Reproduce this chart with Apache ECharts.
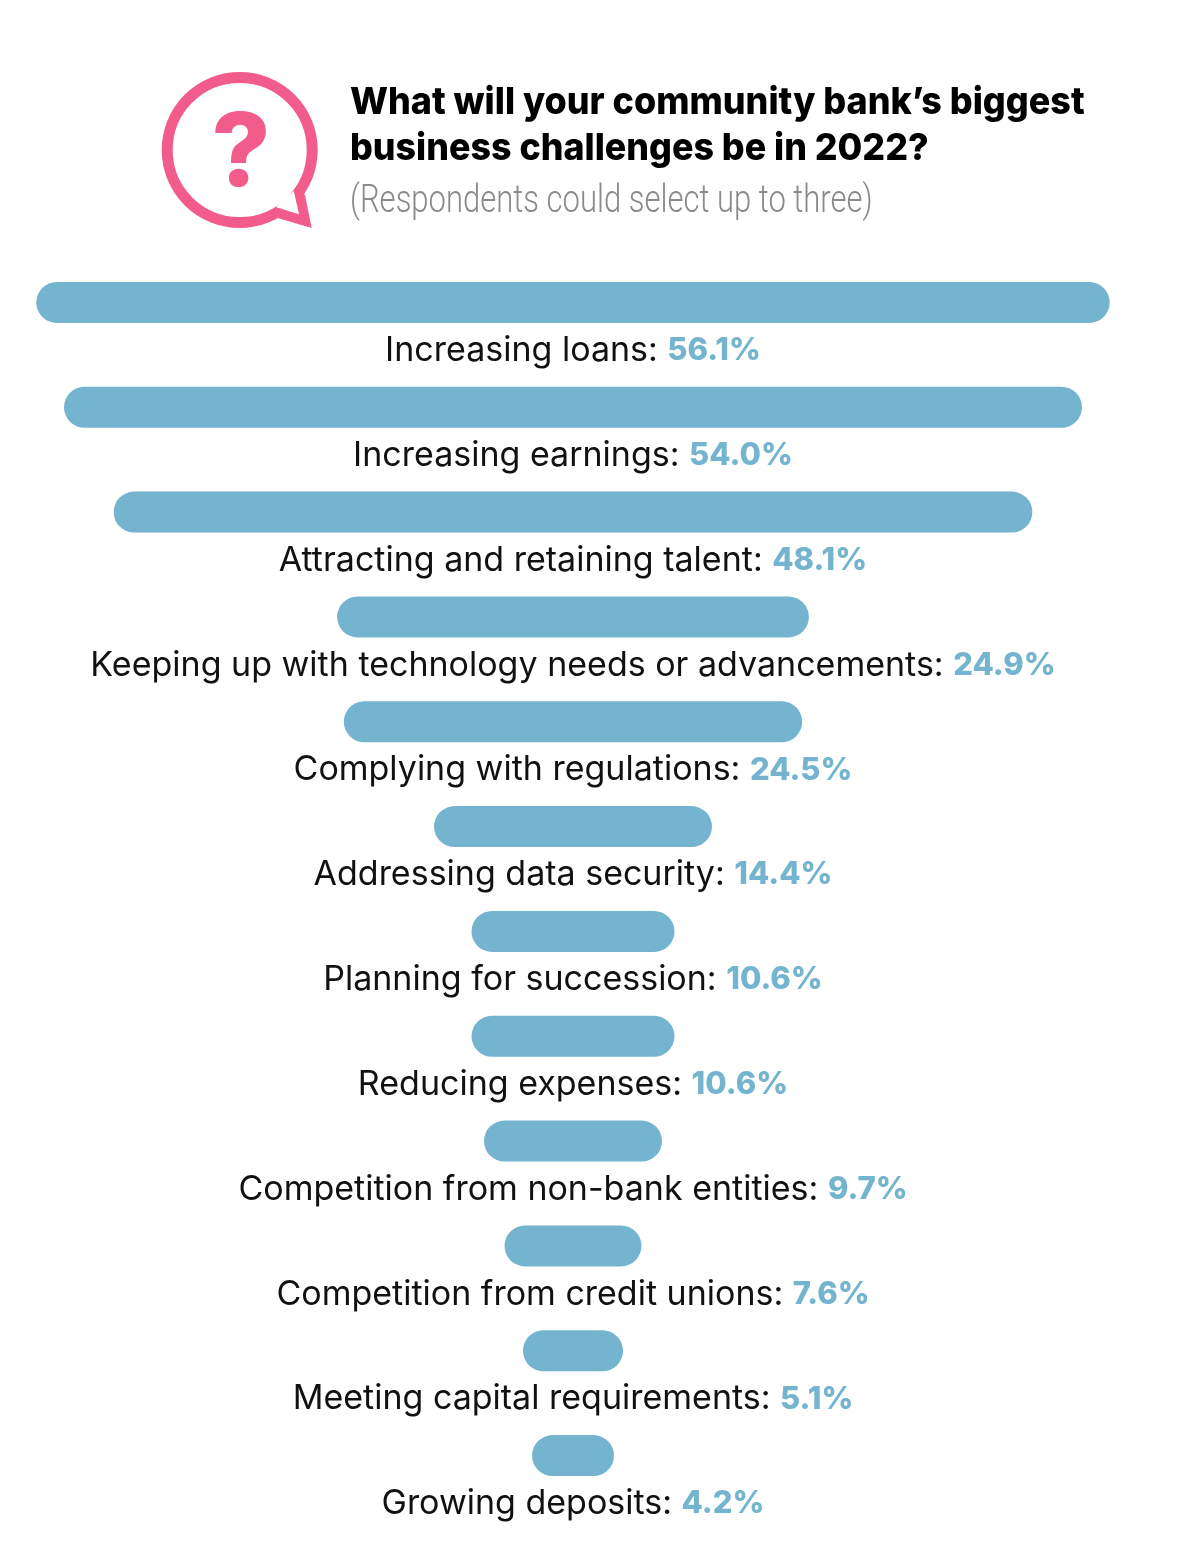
<!DOCTYPE html>
<html><head><meta charset="utf-8">
<style>html,body{margin:0;padding:0;background:#fff}#c{width:1200px;height:1546px}</style>
<script src="https://cdn.jsdelivr.net/npm/echarts@6/dist/echarts.min.js"></script>
</head><body><div id="c"></div>
<script>
const categories = ['Increasing loans','Increasing earnings','Attracting and retaining talent','Keeping up with technology needs or advancements','Complying with regulations','Addressing data security','Planning for succession','Reducing expenses','Competition from non-bank entities','Competition from credit unions','Meeting capital requirements','Growing deposits'];
// Values as printed in the labels
const values = [56.1,54.0,48.1,24.9,24.5,14.4,10.6,10.6,9.7,7.6,5.1,4.2];
const barLengths = [56.2,53.3,48.1,24.7,24.0,14.55,10.63,10.63,9.32,7.17,5.24,4.29];
const AXIS_MAX = 60;
const spacer = barLengths.map(v => (AXIS_MAX - v) / 2);
const FONT = 'Inter, "Noto Sans", sans-serif';
const pink = '#f25c8a', blue = '#74b4cf';
const chart = echarts.init(document.getElementById('c'), null, {renderer:'canvas'});
chart.setOption({
  animation:false,
  backgroundColor:'#fff',
  grid:{left:0,width:1146,top:250,height:1258,containLabel:false},
  xAxis:{type:'value',min:0,max:AXIS_MAX,show:false},
  yAxis:{type:'category',data:categories,inverse:true,show:false},
  series:[
    {type:'bar',stack:'s',data:spacer,barWidth:41,itemStyle:{color:'transparent'},silent:true},
    {type:'bar',stack:'s',data:barLengths,barWidth:41,
     itemStyle:{color:blue,borderRadius:20.5},
     label:{show:true,position:'bottom',distance:11,
       formatter:p=>`{a|${p.name}: }{b|${values[p.dataIndex].toFixed(1)}%}`,
       rich:{a:{fontFamily:FONT,fontSize:34,color:'#111',fontWeight:400},
             b:{fontFamily:FONT,fontSize:31,color:blue,fontWeight:800}}}}
  ],
  graphic:[
    {type:'circle',shape:{cx:239.7,cy:150,r:72.5},style:{fill:'none',stroke:pink,lineWidth:11}},
    {type:'polygon',shape:{points:[[294,190.7],[299,214.3],[275.7,207.3]]},style:{fill:'#fff'}},
    {type:'polygon',shape:{points:[[305,195],[311.7,228],[278.3,218.3],[275.7,207.3],[299,214.3],[294,190.7]]},style:{fill:pink}},
    {type:'text',style:{x:241,y:155,text:'?',fontFamily:'Inter, sans-serif',fontWeight:800,fontSize:102,fill:pink,align:'center',verticalAlign:'middle'}},
    {type:'text',x:350,y:103,scaleX:0.958,style:{x:0,y:0,text:'What will your community bank’s biggest',fontFamily:FONT,fontWeight:800,fontSize:37.5,fill:'#000',verticalAlign:'middle'}},
    {type:'text',x:350,y:149,scaleX:0.955,style:{x:0,y:0,text:'business challenges be in 2022?',fontFamily:FONT,fontWeight:800,fontSize:37.5,fill:'#000',verticalAlign:'middle'}},
    {type:'text',x:350,y:202,scaleX:0.795,style:{x:0,y:0,text:'(Respondents could select up to three)',fontFamily:'Roboto, sans-serif',fontWeight:300,fontSize:39,fill:'#8a8a8a',verticalAlign:'middle'}}
  ]
});
</script></body></html>
